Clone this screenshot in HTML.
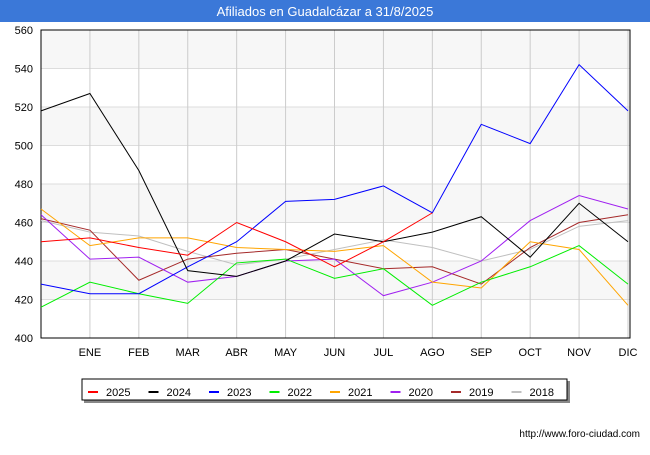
<!DOCTYPE html>
<html><head><meta charset="utf-8"><style>
body{margin:0;width:650px;height:450px;background:#fff;font-family:"Liberation Sans",sans-serif;overflow:hidden}
</style></head><body>
<svg id="c" width="650" height="450" xmlns="http://www.w3.org/2000/svg">
<rect x="0" y="0" width="650" height="22" fill="#3b78d8"/>
<text x="325" y="16" text-anchor="middle" font-size="13" fill="#fff">Afiliados en Guadalcázar a 31/8/2025</text>
<g id="grid"></g><g id="series"></g>
<text x="640" y="437" text-anchor="end" font-size="10" fill="#000">http://www.foro-ciudad.com</text>
</svg>
<script>
const months=["","ENE","FEB","MAR","ABR","MAY","JUN","JUL","AGO","SEP","OCT","NOV","DIC"];
const yTicks=[400,420,440,460,480,500,520,540,560];
const names=["2025","2024","2023","2022","2021","2020","2019","2018"];
const colors=["#ff0000","#000000","#0000ff","#00ee00","#ffa500","#a020f0","#a52a2a","#c0c0c0"];
const s2025=[450,452,447,443,460,450,437,450,465];
const s2024=[518,527,487,435,432,440,454,450,455,463,442,470,450];
const s2023=[428,423,423,437,450,471,472,479,465,511,501,542,518];
const s2022=[416,429,423,418,439,441,431,436,417,429,437,448,428];
const s2021=[467,448,452,452,447,446,445,448,429,426,450,446,417];
const s2020=[464,441,442,429,432,440,441,422,429,440,461,474,467];
const s2019=[462,456,430,441,444,446,441,436,437,428,447,460,464];
const s2018=[461,455,453,445,438,441,446,451,447,440,446,458,461];
const series=[s2025,s2024,s2023,s2022,s2021,s2020,s2019,s2018];
const X0=41,X1=630,Y0=30,Y1=338;
const xs=i=>X0+i*(X1-X0-2)/12;
const ys=v=>Y1-(v-400)*(Y1-Y0)/160;
const NS="http://www.w3.org/2000/svg";
function mk(t,a,p){const e=document.createElementNS(NS,t);for(const k in a)e.setAttribute(k,a[k]);p.appendChild(e);return e;}
const g=document.getElementById('grid');
for(let i=0;i<yTicks.length-1;i++){if(i%2==1){const r=mk('rect',{x:X0,y:ys(yTicks[i+1]),width:X1-X0,height:ys(yTicks[i])-ys(yTicks[i+1]),fill:'#f7f7f7'},g);}}
yTicks.forEach(v=>{const l=mk('line',{x1:X0,x2:X1,y1:ys(v),y2:ys(v),stroke:'#dddddd'},g);
const t=mk('text',{x:X0-8,y:ys(v)+4,'text-anchor':'end','font-size':11,fill:'#000'},g);t.textContent=v;});
months.forEach((m,i)=>{if(i==0)return;const l=mk('line',{x1:xs(i),x2:xs(i),y1:Y0,y2:Y1,stroke:'#cccccc'},g);
const t=mk('text',{x:xs(i),y:356,'text-anchor':'middle','font-size':11,fill:'#000'},g);t.textContent=m;});
const fr=mk('rect',{x:X0,y:Y0,width:X1-X0,height:Y1-Y0,fill:'none',stroke:'#000'},g);
const sg=document.getElementById('series');
for(let k=series.length-1;k>=0;k--){const d=series[k].map((v,i)=>xs(i)+','+ys(v)).join(' ');
const p=mk('polyline',{points:d,fill:'none',stroke:colors[k],'stroke-width':1},sg);}
const lg=mk('g',{},document.getElementById('c'));
mk('rect',{x:84,y:381,width:486,height:22,fill:'#888'},lg);
mk('rect',{x:82,y:379,width:485,height:21,fill:'#fff',stroke:'#000'},lg);
names.forEach((n,k)=>{const x=88+k*60.5;const e=mk('g',{},lg);
mk('line',{x1:x,x2:x+10,y1:392,y2:392,stroke:colors[k],'stroke-width':2},e);
const t=mk('text',{x:x+18,y:396,'font-size':11,fill:'#000'},e);t.textContent=n;});
</script>
</body></html>
